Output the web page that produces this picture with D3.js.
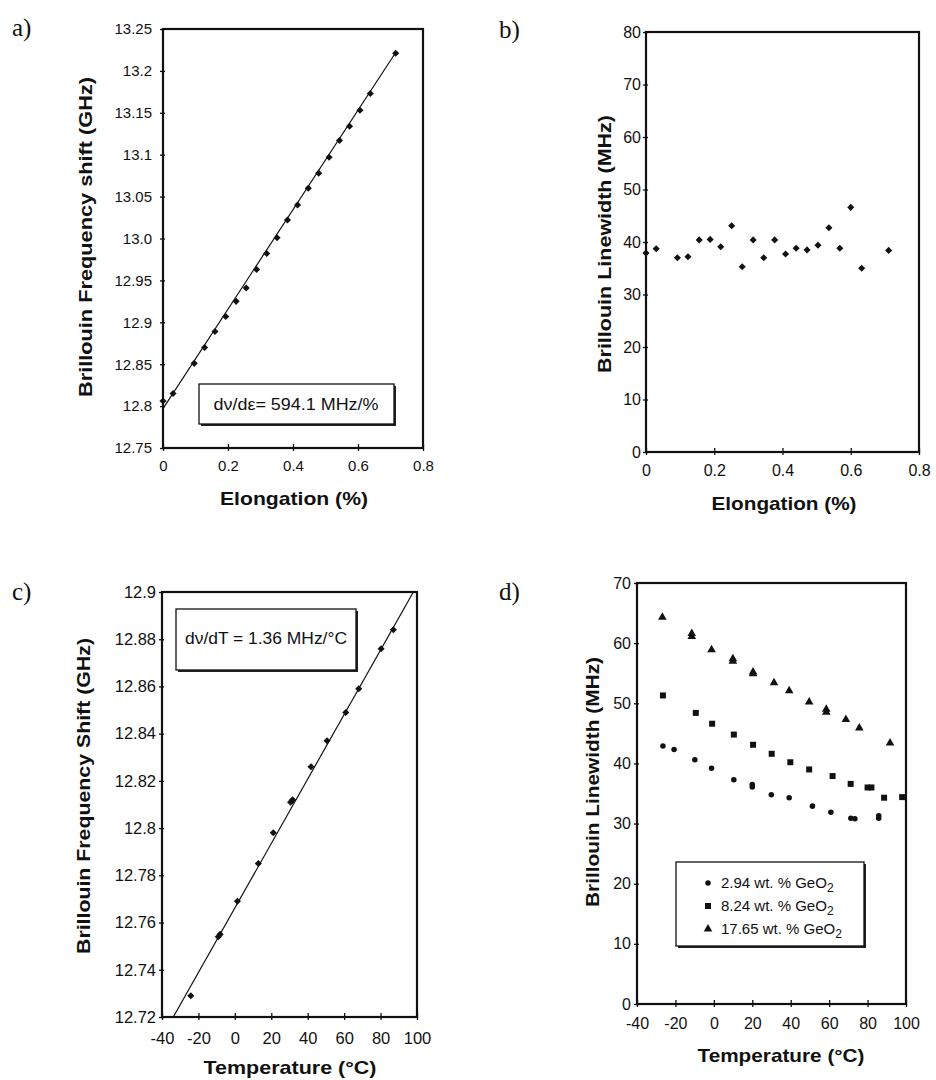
<!DOCTYPE html>
<html>
<head>
<meta charset="utf-8">
<script src="https://cdn.jsdelivr.net/npm/d3@7"></script>
<style>
  body { margin: 0; background: #fff; }
</style>
</head>
<body>
<div id="chart"></div>
<script>
// a) shift vs elongation
const aElongation = [0.000, 0.031, 0.096, 0.128, 0.160, 0.193, 0.225, 0.256, 0.288, 0.319, 0.351,
                     0.383, 0.414, 0.447, 0.479, 0.511, 0.543, 0.574, 0.606, 0.638, 0.716];
const aShift = [12.806, 12.815, 12.851, 12.870, 12.889, 12.907, 12.925, 12.941, 12.963, 12.982, 13.001,
                13.022, 13.040, 13.060, 13.078, 13.097, 13.117, 13.134, 13.153, 13.173, 13.221];
const aFitX = [0.0, 0.716];
const aFitY = [12.797, 13.222];
const aXTicks = [0, 0.2, 0.4, 0.6, 0.8];
const aXTickLabels = ["0", "0.2", "0.4", "0.6", "0.8"];
const aYTicks = [12.75, 12.8, 12.85, 12.9, 12.95, 13.0, 13.05, 13.1, 13.15, 13.2, 13.25];
const aYTickLabels = ["12.75", "12.8", "12.85", "12.9", "12.95", "13.0", "13.05", "13.1", "13.15", "13.2", "13.25"];

// b) linewidth vs elongation
const bElongation = [0.000, 0.030, 0.092, 0.123, 0.156, 0.188, 0.219, 0.251, 0.282, 0.314, 0.345,
                     0.377, 0.409, 0.440, 0.472, 0.504, 0.536, 0.568, 0.600, 0.632, 0.711];
const bWidth = [37.9, 38.7, 37.0, 37.2, 40.4, 40.5, 39.1, 43.1, 35.3, 40.4, 37.0,
                40.4, 37.7, 38.8, 38.5, 39.4, 42.7, 38.8, 46.6, 35.0, 38.4];
const bYTicks = [0, 10, 20, 30, 40, 50, 60, 70, 80];

// c) shift vs temperature
const cTemp = [-24.2, -9.1, -8.1, 1.4, 12.9, 21.1, 30.6, 31.7, 41.8, 50.6, 60.9, 68.0, 80.3, 87.0];
const cShift = [12.729, 12.754, 12.755, 12.769, 12.785, 12.798, 12.811, 12.812, 12.826, 12.837,
                12.849, 12.859, 12.876, 12.884];
const cFitX = [-33.8, 98.0];
const cFitY = [12.72, 12.9];
const tempTicks = [-40, -20, 0, 20, 40, 60, 80, 100];
const cYTicks = [12.72, 12.74, 12.76, 12.78, 12.8, 12.82, 12.84, 12.86, 12.88, 12.9];
const cYTickLabels = ["12.72", "12.74", "12.76", "12.78", "12.8", "12.82", "12.84", "12.86", "12.88", "12.9"];

// d) linewidth vs temperature, three GeO2 concentrations
const dTemp1 = [-26.5, -20.7, -9.9, -1.2, 10.4, 20.0, 20.0, 29.9, 39.2, 51.3, 60.9, 71.3, 73.4, 85.8, 85.8];
const dWidth1 = [42.9, 42.3, 40.6, 39.2, 37.3, 36.5, 36.1, 34.8, 34.3, 32.9, 31.9, 30.9, 30.8, 31.3, 30.9];
const dTemp2 = [-26.5, -9.4, -0.9, 10.4, 20.4, 30.1, 39.8, 49.6, 61.8, 71.2, 80.0, 82.0, 88.6, 98.0];
const dWidth2 = [51.3, 48.4, 46.6, 44.8, 43.1, 41.6, 40.2, 39.0, 37.9, 36.6, 36.0, 36.0, 34.3, 34.4];
const dTemp3 = [-26.8, -11.5, -11.5, -1.2, 9.9, 9.9, 20.4, 20.4, 31.3, 39.2, 49.6, 58.5, 58.5, 68.7, 75.7, 91.7];
const dWidth3 = [64.3, 61.6, 61.1, 58.9, 57.4, 57.0, 55.2, 54.9, 53.4, 52.1, 50.2, 49.0, 48.5, 47.3, 45.9, 43.4];
const dYTicks = [0, 10, 20, 30, 40, 50, 60, 70];
const dSeriesNames = ["2.94 wt. % GeO", "8.24 wt. % GeO", "17.65 wt. % GeO"];

const FONT = "'Liberation Sans', Arial, Helvetica, sans-serif";
const SERIF = "'Liberation Serif', 'Times New Roman', serif";

const svg = d3.select("#chart").append("svg")
    .attr("width", 936)
    .attr("height", 1080)
    .style("background", "#fff");

// frame + axes + titles for one panel, returns scales
function drawPanel(p) {
  const x = d3.scaleLinear().domain(p.xDomain).range([p.left, p.right]);
  const y = d3.scaleLinear().domain(p.yDomain).range([p.bottom, p.top]);

  const gx = svg.append("g")
      .attr("transform", `translate(0,${p.bottom})`)
      .call(d3.axisBottom(x).tickValues(p.xTicks)
        .tickFormat((d, i) => p.xTickLabels[i]).tickSize(3).tickPadding(p.xPad));
  gx.select(".domain").remove();
  gx.selectAll(".tick line").attr("y1", -4).attr("stroke-width", 1.3).attr("stroke", "#111");
  gx.attr("font-family", FONT).attr("font-size", p.fs);
  gx.selectAll("text").attr("fill", "#111");

  const gy = svg.append("g")
      .attr("transform", `translate(${p.left},0)`)
      .call(d3.axisLeft(y).tickValues(p.yTicks)
        .tickFormat((d, i) => p.yTickLabels[i]).tickSize(3).tickPadding(p.yPad));
  gy.select(".domain").remove();
  gy.selectAll(".tick line").attr("x1", 2).attr("stroke-width", 1.3).attr("stroke", "#111");
  gy.attr("font-family", FONT).attr("font-size", p.fs);
  gy.selectAll("text").attr("fill", "#111");

  svg.append("rect")
      .attr("x", p.left).attr("y", p.top)
      .attr("width", p.right - p.left).attr("height", p.bottom - p.top)
      .attr("fill", "none").attr("stroke", "#111").attr("stroke-width", 2.2);

  // axis titles
  svg.append("text")
      .attr("x", p.xTitle[0]).attr("y", p.xTitle[1])
      .attr("text-anchor", "middle")
      .attr("font-family", FONT).attr("font-weight", "bold").attr("font-size", 18.5)
      .attr("textLength", p.xTitle[2]).attr("lengthAdjust", "spacingAndGlyphs")
      .attr("fill", "#111")
      .text(p.xLabel);

  svg.append("text")
      .attr("transform", `translate(${p.yTitle[0]},${p.yTitle[1]}) rotate(-90)`)
      .attr("text-anchor", "middle")
      .attr("dy", "0.35em")
      .attr("font-family", FONT).attr("font-weight", "bold").attr("font-size", 18.5)
      .attr("textLength", p.yTitle[2]).attr("lengthAdjust", "spacingAndGlyphs")
      .attr("fill", "#111")
      .text(p.yLabel);

  // panel letter
  svg.append("text")
      .attr("x", p.tag[0]).attr("y", p.tag[1])
      .attr("font-family", SERIF).attr("font-size", 25)
      .attr("fill", "#111")
      .text(p.tag[2]);

  return { x, y };
}

function textBox(x0, y0, w, h, tx, ty, len, str) {
  svg.append("rect")
      .attr("x", x0 + 2).attr("y", y0 + 2).attr("width", w).attr("height", h)
      .attr("fill", "#222");
  svg.append("rect")
      .attr("x", x0).attr("y", y0).attr("width", w).attr("height", h)
      .attr("fill", "#fff").attr("stroke", "#111").attr("stroke-width", 1.3);
  if (str) {
    svg.append("text")
        .attr("x", tx).attr("y", ty)
        .attr("text-anchor", "middle")
        .attr("font-family", FONT).attr("font-size", 16)
        .attr("textLength", len).attr("lengthAdjust", "spacingAndGlyphs")
        .attr("fill", "#111")
        .text(str);
  }
}

const diamond = d3.symbol().type(d3.symbolSquare).size(25);
const line = d3.line().x(d => d[0]).y(d => d[1]);

// ---- a)
const A = drawPanel({
  left: 163, right: 423, top: 29, bottom: 448,
  xDomain: [0, 0.8], yDomain: [12.75, 13.25],
  xTicks: aXTicks, xTickLabels: aXTickLabels,
  yTicks: aYTicks, yTickLabels: aYTickLabels,
  fs: 15, xPad: 9, yPad: 8,
  xLabel: "Elongation (%)", xTitle: [294, 505, 148],
  yLabel: "Brillouin Frequency shift (GHz)", yTitle: [86, 237, 320],
  tag: [12, 36, "a)"]
});
svg.append("path")
    .attr("d", line(aFitX.map((v, i) => [A.x(v), A.y(aFitY[i])])))
    .attr("fill", "none").attr("stroke", "#111").attr("stroke-width", 1.2);
svg.selectAll("path.pa")
  .data(aElongation)
  .enter().append("path")
    .attr("class", "pa")
    .attr("d", diamond)
    .attr("transform", (d, i) => `translate(${A.x(d)},${A.y(aShift[i])}) rotate(45)`)
    .attr("fill", "#111");
textBox(199, 384, 195, 40, 296, 410, 165, "d\u03bd/d\u03b5= 594.1 MHz/%");

// ---- b)
const B = drawPanel({
  left: 646, right: 919, top: 32, bottom: 452,
  xDomain: [0, 0.8], yDomain: [0, 80],
  xTicks: aXTicks, xTickLabels: aXTickLabels,
  yTicks: bYTicks, yTickLabels: bYTicks.map(String),
  fs: 16, xPad: 10, yPad: 2,
  xLabel: "Elongation (%)", xTitle: [784, 510, 145],
  yLabel: "Brillouin Linewidth (MHz)", yTitle: [605, 244, 258],
  tag: [499, 38, "b)"]
});
svg.selectAll("path.pb")
  .data(bElongation)
  .enter().append("path")
    .attr("class", "pb")
    .attr("d", diamond)
    .attr("transform", (d, i) => `translate(${B.x(d)},${B.y(bWidth[i])}) rotate(45)`)
    .attr("fill", "#111");

// ---- c)
const C = drawPanel({
  left: 162, right: 417, top: 592, bottom: 1017,
  xDomain: [-40, 100], yDomain: [12.72, 12.9],
  xTicks: tempTicks, xTickLabels: tempTicks.map(String),
  yTicks: cYTicks, yTickLabels: cYTickLabels,
  fs: 16.5, xPad: 12, yPad: 3,
  xLabel: "Temperature (\u00b0C)", xTitle: [290, 1074, 173],
  yLabel: "Brillouin Frequency Shift (GHz)", yTitle: [84, 796, 316],
  tag: [12, 600, "c)"]
});
svg.append("path")
    .attr("d", line(cFitX.map((v, i) => [C.x(v), C.y(cFitY[i])])))
    .attr("fill", "none").attr("stroke", "#111").attr("stroke-width", 1.2);
svg.selectAll("path.pc")
  .data(cTemp)
  .enter().append("path")
    .attr("class", "pc")
    .attr("d", diamond)
    .attr("transform", (d, i) => `translate(${C.x(d)},${C.y(cShift[i])}) rotate(45)`)
    .attr("fill", "#111");
textBox(176, 609, 180, 61, 266, 644, 162, "d\u03bd/dT = 1.36 MHz/\u00b0C");

// ---- d)
const D = drawPanel({
  left: 637, right: 906, top: 583, bottom: 1004,
  xDomain: [-40, 100], yDomain: [0, 70],
  xTicks: tempTicks, xTickLabels: tempTicks.map(String),
  yTicks: dYTicks, yTickLabels: dYTicks.map(String),
  fs: 16, xPad: 11, yPad: 3,
  xLabel: "Temperature (\u00b0C)", xTitle: [781, 1062, 167],
  yLabel: "Brillouin Linewidth (MHz)", yTitle: [593, 782, 250],
  tag: [499, 600, "d)"]
});
const dSymbols = [
  d3.symbol().type(d3.symbolCircle).size(24),
  d3.symbol().type(d3.symbolSquare).size(36),
  d3.symbol().type(d3.symbolTriangle).size(32)
];
const dSeries = [[dTemp1, dWidth1], [dTemp2, dWidth2], [dTemp3, dWidth3]];
dSeries.forEach(([xs, ys], k) => {
  svg.selectAll(`path.pd${k}`)
    .data(xs)
    .enter().append("path")
      .attr("class", `pd${k}`)
      .attr("d", dSymbols[k])
      .attr("transform", (d, i) => `translate(${D.x(d)},${D.y(ys[i])})`)
      .attr("fill", "#111");
});

// legend
textBox(676, 862, 188, 84);
dSeriesNames.forEach((name, k) => {
  const yb = 888 + k * 23;
  svg.append("path")
      .attr("d", dSymbols[k])
      .attr("transform", `translate(708,${yb - 5})`)
      .attr("fill", "#111");
  const t = svg.append("text")
      .attr("x", 721).attr("y", yb)
      .attr("font-family", FONT).attr("font-size", 15)
      .attr("fill", "#111")
      .text(name);
  t.append("tspan")
      .attr("dy", 4).attr("font-size", 12)
      .text("2");
});
</script>
</body>
</html>
